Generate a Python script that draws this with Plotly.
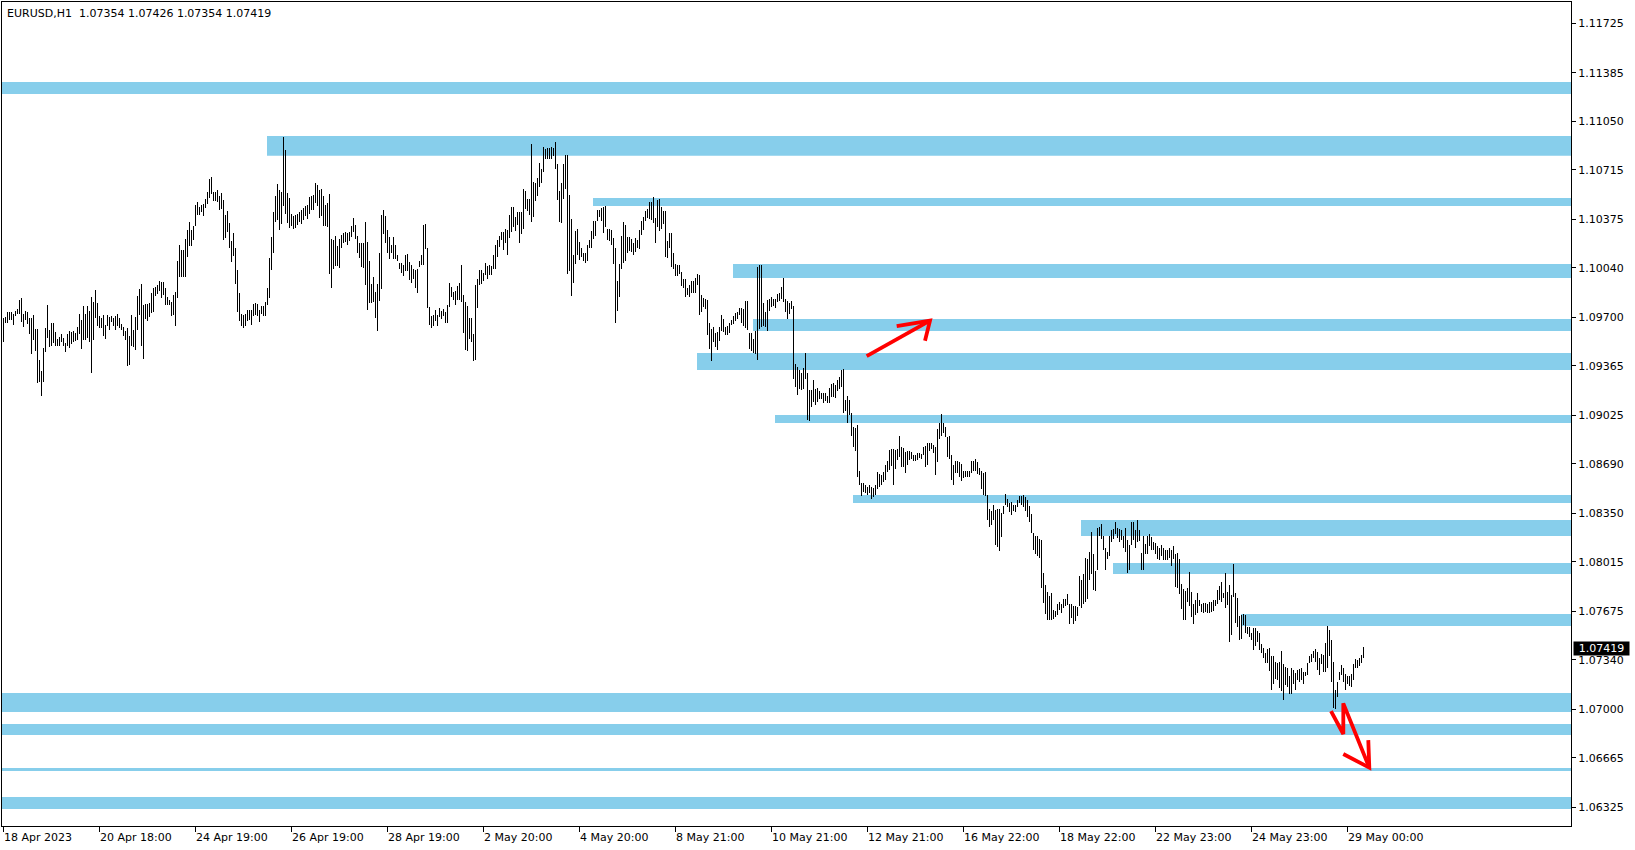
import plotly.graph_objects as go

# ---------------- data ----------------
chart_title = "EURUSD,H1  1.07354 1.07426 1.07354 1.07419"
last_price = 1.07419

# hourly bar highs / lows, split in four stretches
highs_a = [
    1.09697, 1.09702, 1.09734, 1.09734, 1.09734, 1.09720, 1.09743, 1.09757, 1.09817, 1.09831,
    1.09725, 1.09743, 1.09734, 1.09693, 1.09693, 1.09716, 1.09619, 1.09619, 1.09403, 1.09330,
    1.09491, 1.09624, 1.09785, 1.09615, 1.09661, 1.09661, 1.09601, 1.09551, 1.09564, 1.09583,
    1.09555, 1.09523, 1.09583, 1.09606, 1.09601, 1.09606, 1.09592, 1.09633, 1.09725, 1.09684,
    1.09776, 1.09725, 1.09776, 1.09743, 1.09840, 1.09808, 1.09890, 1.09798, 1.09707, 1.09697,
    1.09716, 1.09647, 1.09716, 1.09702, 1.09707, 1.09693, 1.09707, 1.09725, 1.09693, 1.09656,
    1.09633, 1.09606, 1.09624, 1.09573, 1.09716, 1.09615, 1.09702, 1.09844, 1.09895, 1.09927,
    1.09785, 1.09789, 1.09794, 1.09798, 1.09867, 1.09900, 1.09909, 1.09922, 1.09950, 1.09941,
    1.09945, 1.09900, 1.09840, 1.09817, 1.09808, 1.09854, 1.09877, 1.10088, 1.10198, 1.10166,
    1.10166, 1.10239, 1.10299, 1.10354, 1.10304, 1.10327, 1.10474, 1.10492, 1.10460, 1.10474,
    1.10483, 1.10515, 1.10565, 1.10653, 1.10666, 1.10565, 1.10565, 1.10575, 1.10538, 1.10556,
    1.10506, 1.10405, 1.10432, 1.10350, 1.10226, 1.10281, 1.10180, 1.10023, 1.09867, 1.09725,
    1.09716, 1.09725, 1.09753, 1.09748, 1.09753, 1.09794, 1.09798, 1.09789, 1.09748, 1.09780,
    1.09780, 1.09808, 1.09904, 1.10106, 1.10253, 1.10423, 1.10538, 1.10616, 1.10579, 1.10565,
    1.10942, 1.10855, 1.10556, 1.10524, 1.10414, 1.10395, 1.10405, 1.10414, 1.10423, 1.10437,
    1.10451, 1.10469, 1.10474, 1.10529, 1.10533, 1.10542, 1.10625, 1.10611, 1.10579, 1.10584,
    1.10533, 1.10474, 1.10487, 1.10547, 1.10239, 1.10235, 1.10258, 1.10193, 1.10239, 1.10267,
    1.10281,
]
lows_a = [
    1.09532, 1.09661, 1.09661, 1.09684, 1.09684, 1.09647, 1.09711, 1.09720, 1.09725, 1.09670,
    1.09633, 1.09684, 1.09651, 1.09587, 1.09449, 1.09546, 1.09468, 1.09247, 1.09257, 1.09160,
    1.09257, 1.09463, 1.09555, 1.09495, 1.09505, 1.09523, 1.09505, 1.09505, 1.09505, 1.09528,
    1.09505, 1.09463, 1.09500, 1.09486, 1.09514, 1.09528, 1.09537, 1.09541, 1.09587, 1.09482,
    1.09546, 1.09546, 1.09560, 1.09528, 1.09316, 1.09546, 1.09693, 1.09638, 1.09628, 1.09624,
    1.09573, 1.09551, 1.09638, 1.09615, 1.09665, 1.09642, 1.09610, 1.09638, 1.09624, 1.09615,
    1.09573, 1.09546, 1.09367, 1.09371, 1.09505, 1.09495, 1.09477, 1.09615, 1.09716, 1.09505,
    1.09413, 1.09688, 1.09675, 1.09702, 1.09730, 1.09734, 1.09849, 1.09863, 1.09881, 1.09831,
    1.09854, 1.09785, 1.09785, 1.09785, 1.09711, 1.09716, 1.09642, 1.09831, 1.09978, 1.09978,
    1.09978, 1.09978, 1.10115, 1.10193, 1.10193, 1.10235, 1.10327, 1.10405, 1.10405, 1.10423,
    1.10395, 1.10451, 1.10483, 1.10524, 1.10552, 1.10501, 1.10501, 1.10496, 1.10441, 1.10446,
    1.10235, 1.10244, 1.10285, 1.10180, 1.10083, 1.10125, 1.09932, 1.09739, 1.09675, 1.09638,
    1.09628, 1.09638, 1.09675, 1.09684, 1.09647, 1.09707, 1.09716, 1.09707, 1.09670, 1.09725,
    1.09711, 1.09707, 1.09785, 1.09835, 1.10028, 1.10143, 1.10359, 1.10372, 1.10304, 1.10345,
    1.10469, 1.10409, 1.10350, 1.10317, 1.10331, 1.10308, 1.10313, 1.10336, 1.10359, 1.10340,
    1.10368, 1.10400, 1.10377, 1.10414, 1.10441, 1.10441, 1.10487, 1.10464, 1.10386, 1.10395,
    1.10327, 1.10331, 1.10322, 1.09996, 1.09904, 1.10033, 1.10051, 1.10056, 1.10042, 1.10175,
    1.10212,
]
highs_b = [
    1.10287, 1.10278, 1.10287, 1.10329, 1.10384, 1.10338, 1.10260, 1.10209, 1.10214, 1.10209,
    1.10356, 1.10219, 1.10085, 1.09929, 1.09980, 1.09874, 1.09929, 1.10141, 1.10407, 1.10439,
    1.10398, 1.10301, 1.10251, 1.10200, 1.10255, 1.10196, 1.10131, 1.10076, 1.10076, 1.10058,
    1.10131, 1.10136, 1.10081, 1.10058, 1.10035, 1.10026, 1.10030, 1.10090, 1.10127, 1.10333,
    1.10343, 1.10177, 1.09773, 1.09709, 1.09718, 1.09750, 1.09713, 1.09764, 1.09741, 1.09755,
    1.09736, 1.09782, 1.09934, 1.09906, 1.09874, 1.09879, 1.09916, 1.09934, 1.10058, 1.09856,
    1.09805, 1.09778, 1.09695, 1.09695, 1.09585, 1.09920, 1.09966, 1.10026, 1.10026, 1.10003,
    1.10072, 1.10053, 1.10058, 1.10053, 1.10127, 1.10196, 1.10232, 1.10260, 1.10287, 1.10287,
    1.10310, 1.10301, 1.10402, 1.10457, 1.10457, 1.10388, 1.10425, 1.10425, 1.10425, 1.10581,
    1.10572, 1.10517, 1.10512, 1.10894, 1.10632, 1.10623, 1.10659, 1.10765, 1.10724, 1.10871,
    1.10861, 1.10866, 1.10866, 1.10871, 1.10866, 1.10907, 1.10756, 1.10568, 1.10627, 1.10756,
    1.10820, 1.10820, 1.10545, 1.10379, 1.10131, 1.10297, 1.10310, 1.10219, 1.10177, 1.10141,
    1.10145, 1.10200, 1.10232, 1.10292, 1.10366, 1.10366, 1.10439, 1.10439, 1.10453, 1.10462,
    1.10467, 1.10310, 1.10310, 1.10301, 1.10246, 1.10177, 1.09952, 1.10067, 1.10260, 1.10356,
    1.10333, 1.10255, 1.10251, 1.10237, 1.10209, 1.10246, 1.10232, 1.10301, 1.10366, 1.10388,
    1.10430, 1.10444, 1.10494, 1.10494, 1.10531, 1.10384, 1.10508, 1.10512, 1.10462, 1.10434,
    1.10434, 1.10223, 1.10283, 1.10278, 1.10145, 1.10067, 1.10062, 1.10062, 1.10012, 1.09966,
    1.09966, 1.09902, 1.09920,
]
lows_b = [
    1.10219, 1.10200, 1.10223, 1.10255, 1.10287, 1.10237, 1.10145, 1.10108, 1.10044, 1.10040,
    1.09925, 1.09750, 1.09801, 1.09801, 1.09805, 1.09695, 1.09608, 1.09814, 1.09897, 1.10274,
    1.10209, 1.10145, 1.10099, 1.10145, 1.10099, 1.10099, 1.10085, 1.10035, 1.10003, 1.09984,
    1.10017, 1.10021, 1.09957, 1.09938, 1.09966, 1.09902, 1.09870, 1.10044, 1.10058, 1.10062,
    1.10168, 1.09764, 1.09649, 1.09626, 1.09640, 1.09672, 1.09640, 1.09700, 1.09686, 1.09709,
    1.09663, 1.09663, 1.09773, 1.09842, 1.09819, 1.09782, 1.09819, 1.09819, 1.09805, 1.09589,
    1.09475, 1.09466, 1.09553, 1.09530, 1.09397, 1.09406, 1.09764, 1.09925, 1.09929, 1.09952,
    1.09989, 1.09966, 1.09989, 1.09994, 1.10030, 1.10035, 1.10118, 1.10186, 1.10232, 1.10163,
    1.10209, 1.10131, 1.10246, 1.10287, 1.10324, 1.10297, 1.10333, 1.10209, 1.10274, 1.10306,
    1.10448, 1.10434, 1.10407, 1.10356, 1.10388, 1.10503, 1.10535, 1.10595, 1.10623, 1.10701,
    1.10788, 1.10788, 1.10793, 1.10788, 1.10811, 1.10719, 1.10508, 1.10356, 1.10352, 1.10512,
    1.10586, 1.09998, 1.10017, 1.09847, 1.09938, 1.10067, 1.10131, 1.10095, 1.10113, 1.10090,
    1.10076, 1.10085, 1.10177, 1.10177, 1.10237, 1.10260, 1.10361, 1.10393, 1.10366, 1.10278,
    1.10324, 1.10232, 1.10223, 1.10196, 1.10067, 1.09658, 1.09746, 1.09842, 1.10035, 1.10076,
    1.10090, 1.10145, 1.10154, 1.10150, 1.10131, 1.10150, 1.10177, 1.10173, 1.10269, 1.10301,
    1.10366, 1.10384, 1.10375, 1.10370, 1.10347, 1.10214, 1.10320, 1.10292, 1.10310, 1.10343,
    1.10118, 1.10108, 1.10177, 1.10049, 1.10035, 1.09984, 1.09984, 1.09998, 1.09916, 1.09902,
    1.09837, 1.09851, 1.09837,
]
highs_c = [
    1.09948, 1.09948, 1.09971, 1.09998, 1.09994, 1.09851, 1.09833, 1.09828, 1.09819, 1.09658,
    1.09622, 1.09635, 1.09594, 1.09599, 1.09635, 1.09713, 1.09686, 1.09635, 1.09640, 1.09658,
    1.09681, 1.09709, 1.09727, 1.09736, 1.09764, 1.09764, 1.09755, 1.09810, 1.09810, 1.09589,
    1.09589, 1.09548, 1.09608, 1.10049, 1.10058, 1.10062, 1.09801, 1.09736, 1.09819, 1.09824,
    1.09842, 1.09828, 1.09824, 1.09860, 1.09865, 1.09911, 1.09971, 1.09824, 1.09810, 1.09796,
    1.09815, 1.09778, 1.09378, 1.09355, 1.09337, 1.09314, 1.09351, 1.09452, 1.09319, 1.09199,
    1.09199, 1.09268, 1.09204, 1.09213, 1.09190, 1.09181, 1.09181, 1.09176, 1.09158, 1.09213,
    1.09240, 1.09250, 1.09231, 1.09268, 1.09291, 1.09337, 1.09346, 1.09130, 1.09158, 1.09130,
    1.09043, 1.08947, 1.08937, 1.08960, 1.08643, 1.08561, 1.08556, 1.08543, 1.08533, 1.08547,
    1.08529, 1.08524, 1.08547, 1.08634, 1.08621, 1.08611, 1.08634, 1.08680, 1.08712, 1.08786,
    1.08795, 1.08791, 1.08786, 1.08795, 1.08882, 1.08809, 1.08800, 1.08772, 1.08781, 1.08777,
    1.08772, 1.08754, 1.08749, 1.08763, 1.08763, 1.08758, 1.08809, 1.08814, 1.08832, 1.08836,
    1.08832, 1.08823, 1.08809, 1.08933, 1.08970, 1.09034, 1.08970, 1.08947, 1.08878, 1.08882,
    1.08754, 1.08680, 1.08708, 1.08708, 1.08703, 1.08690, 1.08643, 1.08639, 1.08639, 1.08643,
    1.08712, 1.08708, 1.08722, 1.08703, 1.08662, 1.08639, 1.08630, 1.08634, 1.08474, 1.08382,
    1.08368, 1.08409, 1.08373, 1.08382, 1.08382, 1.08354, 1.08400, 1.08483, 1.08451, 1.08423,
    1.08428, 1.08409, 1.08405, 1.08442, 1.08469, 1.08469, 1.08474, 1.08460, 1.08442, 1.08400,
]
lows_c = [
    1.09870, 1.09865, 1.09870, 1.09920, 1.09714, 1.09736, 1.09769, 1.09759, 1.09580, 1.09479,
    1.09401, 1.09530, 1.09498, 1.09475, 1.09534, 1.09603, 1.09599, 1.09580, 1.09576, 1.09594,
    1.09645, 1.09654, 1.09672, 1.09686, 1.09714, 1.09663, 1.09640, 1.09626, 1.09612, 1.09484,
    1.09465, 1.09456, 1.09447, 1.09406, 1.09622, 1.09635, 1.09640, 1.09635, 1.09608, 1.09746,
    1.09773, 1.09778, 1.09764, 1.09805, 1.09810, 1.09824, 1.09805, 1.09736, 1.09686, 1.09723,
    1.09755, 1.09277, 1.09218, 1.09167, 1.09208, 1.09199, 1.09204, 1.09273, 1.08993, 1.08988,
    1.09080, 1.09117, 1.09098, 1.09117, 1.09135, 1.09135, 1.09107, 1.09121, 1.09107, 1.09112,
    1.09153, 1.09153, 1.09144, 1.09190, 1.09204, 1.09222, 1.09038, 1.09052, 1.08974, 1.09029,
    1.08882, 1.08809, 1.08781, 1.08602, 1.08543, 1.08469, 1.08497, 1.08487, 1.08474, 1.08487,
    1.08446, 1.08460, 1.08474, 1.08520, 1.08533, 1.08547, 1.08565, 1.08579, 1.08634, 1.08648,
    1.08676, 1.08543, 1.08653, 1.08717, 1.08740, 1.08671, 1.08671, 1.08625, 1.08685, 1.08717,
    1.08726, 1.08712, 1.08712, 1.08717, 1.08731, 1.08722, 1.08749, 1.08671, 1.08680, 1.08777,
    1.08791, 1.08763, 1.08616, 1.08703, 1.08864, 1.08882, 1.08905, 1.08873, 1.08735, 1.08726,
    1.08579, 1.08543, 1.08630, 1.08625, 1.08602, 1.08570, 1.08593, 1.08598, 1.08602, 1.08602,
    1.08625, 1.08639, 1.08643, 1.08621, 1.08616, 1.08515, 1.08478, 1.08469, 1.08304, 1.08258,
    1.08267, 1.08304, 1.08129, 1.08120, 1.08092, 1.08189, 1.08345, 1.08405, 1.08396, 1.08359,
    1.08336, 1.08364, 1.08359, 1.08391, 1.08419, 1.08409, 1.08396, 1.08368, 1.08322, 1.08290,
]
highs_d = [
    1.08343, 1.08214, 1.08196, 1.08191, 1.08173, 1.08164, 1.07939, 1.07856, 1.07805, 1.07783,
    1.07801, 1.07682, 1.07677, 1.07727, 1.07741, 1.07727, 1.07760, 1.07760, 1.07792, 1.07727,
    1.07723, 1.07714, 1.07709, 1.07704, 1.07916, 1.07893, 1.07934, 1.08040, 1.08035, 1.08086,
    1.08223, 1.08072, 1.07952, 1.08251, 1.08256, 1.08274, 1.08191, 1.08109, 1.08081, 1.08191,
    1.08237, 1.08242, 1.08288, 1.08246, 1.08242, 1.08233, 1.08191, 1.08246, 1.08168, 1.08131,
    1.08288, 1.08292, 1.08233, 1.08301, 1.08237, 1.08076, 1.08191, 1.08136, 1.08196, 1.08205,
    1.08187, 1.08150, 1.08145, 1.08122, 1.08113, 1.08131, 1.08109, 1.08099, 1.08099, 1.08109,
    1.08099, 1.08122, 1.08067, 1.08076, 1.08035, 1.07865, 1.07828, 1.07815, 1.07833, 1.07948,
    1.07805, 1.07727, 1.07755, 1.07801, 1.07755, 1.07727, 1.07732, 1.07732, 1.07727, 1.07741,
    1.07737, 1.07750, 1.07755, 1.07819, 1.07851, 1.07879, 1.07801, 1.07939, 1.07805, 1.07856,
    1.07787, 1.07998, 1.07801, 1.07764, 1.07640, 1.07649, 1.07659, 1.07649, 1.07567, 1.07567,
    1.07525, 1.07562, 1.07562, 1.07539, 1.07525, 1.07452, 1.07420, 1.07388, 1.07415, 1.07424,
    1.07369, 1.07369, 1.07328, 1.07319, 1.07323, 1.07401, 1.07310, 1.07291, 1.07282, 1.07231,
    1.07282, 1.07268, 1.07250, 1.07273, 1.07277, 1.07282, 1.07259, 1.07259, 1.07319, 1.07369,
    1.07378, 1.07401, 1.07415, 1.07397, 1.07351, 1.07378, 1.07374, 1.07456, 1.07576, 1.07544,
    1.07479, 1.07328, 1.07130, 1.07190, 1.07259, 1.07305, 1.07282, 1.07241, 1.07231, 1.07227,
    1.07245, 1.07310, 1.07346, 1.07342, 1.07355, 1.07374, 1.07426,
]
lows_d = [
    1.08214, 1.08095, 1.08072, 1.08053, 1.08040, 1.07838, 1.07732, 1.07659, 1.07617, 1.07613,
    1.07617, 1.07622, 1.07636, 1.07649, 1.07682, 1.07663, 1.07700, 1.07714, 1.07718, 1.07585,
    1.07626, 1.07590, 1.07608, 1.07640, 1.07714, 1.07700, 1.07723, 1.07741, 1.07760, 1.07888,
    1.07929, 1.07824, 1.07815, 1.07957, 1.08191, 1.08173, 1.08095, 1.07962, 1.08035, 1.08053,
    1.08150, 1.08173, 1.08205, 1.08177, 1.08154, 1.08168, 1.08109, 1.08081, 1.07939, 1.07957,
    1.08131, 1.08168, 1.08109, 1.08150, 1.08159, 1.07957, 1.07957, 1.08067, 1.08072, 1.08122,
    1.08099, 1.08095, 1.08067, 1.08035, 1.08030, 1.08053, 1.08030, 1.08026, 1.08030, 1.08044,
    1.07989, 1.08035, 1.07842, 1.07838, 1.07792, 1.07691, 1.07617, 1.07617, 1.07741, 1.07714,
    1.07636, 1.07590, 1.07649, 1.07663, 1.07714, 1.07672, 1.07663, 1.07672, 1.07663, 1.07663,
    1.07672, 1.07677, 1.07714, 1.07727, 1.07750, 1.07741, 1.07769, 1.07695, 1.07718, 1.07466,
    1.07512, 1.07773, 1.07594, 1.07567, 1.07479, 1.07484, 1.07580, 1.07525, 1.07521, 1.07498,
    1.07475, 1.07410, 1.07438, 1.07461, 1.07406, 1.07388, 1.07351, 1.07319, 1.07319, 1.07264,
    1.07130, 1.07172, 1.07209, 1.07204, 1.07144, 1.07126, 1.07061, 1.07167, 1.07153, 1.07107,
    1.07103, 1.07172, 1.07135, 1.07199, 1.07190, 1.07204, 1.07172, 1.07231, 1.07236, 1.07319,
    1.07328, 1.07351, 1.07328, 1.07273, 1.07236, 1.07314, 1.07259, 1.07259, 1.07287, 1.07365,
    1.07190, 1.07006, 1.07002, 1.07084, 1.07199, 1.07236, 1.07190, 1.07130, 1.07176, 1.07163,
    1.07153, 1.07204, 1.07282, 1.07282, 1.07296, 1.07319, 1.07354,
]

# time-axis labels and the bar each one belongs to
time_labels = ["18 Apr 2023", "20 Apr 18:00", "24 Apr 19:00", "26 Apr 19:00", "28 Apr 19:00",
               "2 May 20:00", "4 May 20:00", "8 May 21:00", "10 May 21:00", "12 May 21:00",
               "16 May 22:00", "18 May 22:00", "22 May 23:00", "24 May 23:00", "29 May 00:00"]
time_label_bars = [0, 48, 96, 144, 192, 240, 288, 336, 384, 432, 480, 528, 576, 624, 672]

# price-axis labels
price_ticks = [1.11725, 1.11385, 1.11050, 1.10715, 1.10375, 1.10040, 1.09700, 1.09365, 1.09025,
               1.08690, 1.08350, 1.08015, 1.07675, 1.07340, 1.07000, 1.06665, 1.06325]

# support / resistance zones: first bar (0 = whole width), lower and upper price
zone_start_bar = [0, 132, 295, 365, 375, 347, 386, 425, 539, 555, 619, 0, 0, 0, 0]
zone_low = [1.11238, 1.10813, 1.10467, 1.09971, 1.09606, 1.09337, 1.08972, 1.08421,
            1.08194, 1.07932, 1.07574, 1.06981, 1.06823, 1.06575, 1.06313]
zone_high = [1.11321, 1.10949, 1.10522, 1.10067, 1.09688, 1.09454, 1.09027, 1.08476,
             1.08304, 1.08008, 1.07656, 1.07112, 1.06899, 1.06596, 1.06396]

# hand-drawn red arrows (bar position, price)
arrow_up_x = [431.6, 463.25, None, 446.6, 463.25, 460.75]
arrow_up_y = [1.09433, 1.09677, None, 1.09640, 1.09677, 1.09539]
arrow_down_x = [663.75, 669.9, 669.9, 682.9, None, 669.9, 682.9, 682.4]
arrow_down_y = [1.06988, 1.06830, 1.07041, 1.06598, None, 1.06692, 1.06598, 1.06788]

# ---------------- figure ----------------
highs = highs_a + highs_b + highs_c + highs_d
lows = lows_a + lows_b + lows_c + lows_d

seg_x, seg_y = [], []
for i, (h, l) in enumerate(zip(highs, lows)):
    seg_x += [i, i, None]
    seg_y += [l, h, None]

X_MIN, X_MAX = -0.75, 783.75
Y_MIN, Y_MAX = 1.061962, 1.118717
FONT = "DejaVu Sans"

fig = go.Figure()
fig.add_trace(go.Scatter(x=seg_x, y=seg_y, mode="lines",
                         line=dict(color="black", width=1), hoverinfo="skip",
                         showlegend=False))
fig.add_trace(go.Scatter(x=arrow_up_x, y=arrow_up_y, mode="lines",
                         line=dict(color="#ff0000", width=3.8), hoverinfo="skip",
                         showlegend=False))
fig.add_trace(go.Scatter(x=arrow_down_x, y=arrow_down_y, mode="lines",
                         line=dict(color="#ff0000", width=3.8), hoverinfo="skip",
                         showlegend=False))

shapes = []
for b, lo, hi in zip(zone_start_bar, zone_low, zone_high):
    x0 = X_MIN if b == 0 else b - 0.25
    shapes.append(dict(type="rect", xref="x", yref="y", x0=x0, x1=X_MAX, y0=lo, y1=hi,
                       fillcolor="#87CEEB", line=dict(width=0), layer="below"))

annotations = [dict(text=chart_title, xref="paper", yref="paper", x=0, y=1,
                    xanchor="left", yanchor="top", xshift=3, yshift=-3, showarrow=False,
                    font=dict(family=FONT, size=11, color="black"))]
for lbl, b in zip(time_labels, time_label_bars):
    annotations.append(dict(text=lbl, xref="x", yref="paper", x=b, y=0,
                            xanchor="left", yanchor="top", xshift=-2, yshift=-3,
                            showarrow=False, font=dict(family=FONT, size=11, color="black")))
annotations.append(dict(text=f"{last_price:.5f}", xref="paper", yref="y", x=1, y=last_price,
                        xanchor="left", yanchor="middle", xshift=2, showarrow=False,
                        bgcolor="black", borderpad=0, width=55, height=13,
                        font=dict(family=FONT, size=11, color="white")))

fig.update_layout(
    width=1635, height=850,
    margin=dict(l=2, r=64, t=2, b=24),
    paper_bgcolor="white", plot_bgcolor="white",
    template="none",
    font=dict(family=FONT, size=11, color="black"),
    shapes=shapes, annotations=annotations,
    showlegend=False,
    xaxis=dict(range=[X_MIN, X_MAX], showgrid=False, zeroline=False,
               showline=True, linecolor="black", linewidth=1, mirror=True,
               ticks="outside", ticklen=5, tickcolor="black", tickwidth=1,
               tickvals=time_label_bars, showticklabels=False, automargin=False,
               fixedrange=True),
    yaxis=dict(range=[Y_MIN, Y_MAX], side="right", showgrid=False, zeroline=False,
               showline=True, linecolor="black", linewidth=1, mirror=True,
               ticks="outside", ticklen=4, tickcolor="black", tickwidth=1,
               tickvals=price_ticks, ticktext=[f"{v:.5f}" for v in price_ticks],
               tickfont=dict(family=FONT, size=11, color="black"),
               automargin=False, fixedrange=True),
)

fig.write_html(
    "out.html",
    config={"displayModeBar": False},
    post_script=(
        "document.body.style.margin='0';document.body.style.overflow='hidden';"
        "var st=document.createElement('style');"
        "st.innerHTML='.scatterlayer .trace:first-child path.js-line{shape-rendering:crispEdges}';"
        "document.head.appendChild(st);"
    ),
)
